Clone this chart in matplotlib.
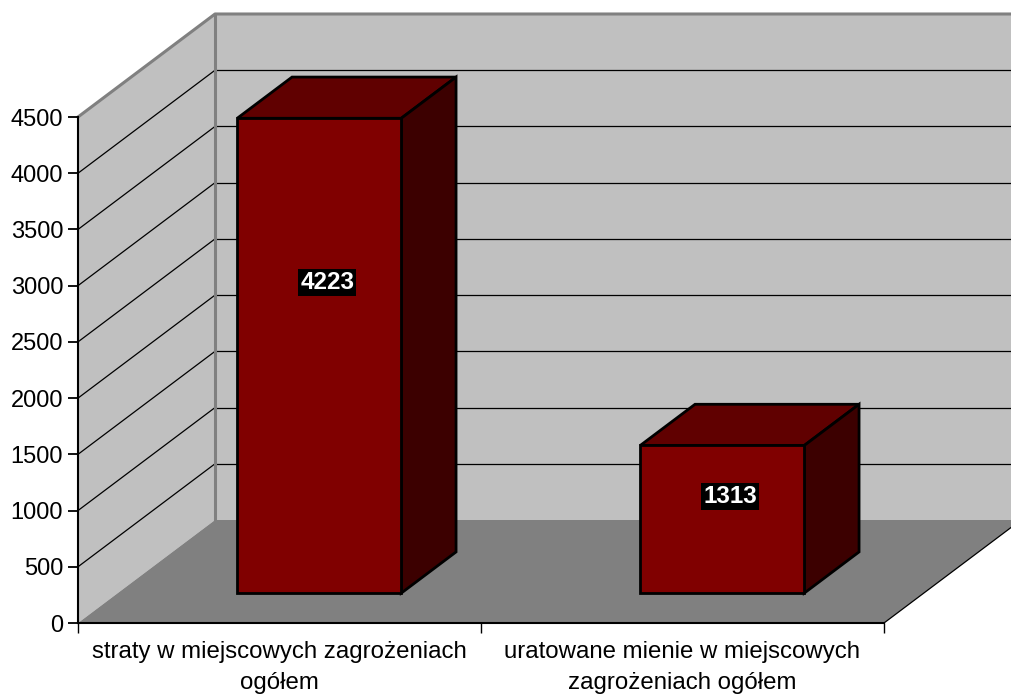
import numpy as np
import matplotlib
matplotlib.use("Agg")
import matplotlib.pyplot as plt
from matplotlib.patches import Polygon

plt.rcParams["font.family"] = ["Liberation Sans", "DejaVu Sans"]

categories = ["straty w miejscowych zagrożeniach\nogółem",
              "uratowane mienie w miejscowych\nzagrożeniach ogółem"]
values = [4223, 1313]
y_ticks = list(range(0, 5000, 500))

WALL = "#c0c0c0"
FLOOR = "#808080"
EDGE_GRAY = "#808080"
FRONT = "#800000"
TOP = "#600000"
SIDE = "#3c0000"

YMAX = 4500
DX, DY = 0.34, 916          # depth offset (category units, value units)
Z0, Z1 = 0.29, 0.69         # bar front/back depth fraction
BAR_W = 0.407


def off(x, y, z):
    return (x + z * DX, y + z * DY)


fig = plt.figure(figsize=(10.11, 6.97), dpi=100)
ax = fig.add_axes([78 / 1011, 74 / 697, 806 / 1011, 506 / 697])
ax.set_xlim(0, len(categories))
ax.set_ylim(0, YMAX)
ax.patch.set_visible(False)

xr = len(categories) + 0.5  # walls run past the right edge

# side wall, back wall, floor
ax.add_patch(Polygon([off(0, 0, 0), off(0, YMAX, 0), off(0, YMAX, 1), off(0, 0, 1)],
                     closed=True, fc=WALL, ec="none", clip_on=False, zorder=0))
ax.add_patch(Polygon([off(0, 0, 1), off(0, YMAX, 1), off(xr, YMAX, 1), off(xr, 0, 1)],
                     closed=True, fc=WALL, ec="none", clip_on=False, zorder=0))
ax.add_patch(Polygon([off(0, 0, 0), off(len(categories), 0, 0), off(len(categories), 0, 1), off(0, 0, 1)],
                     closed=True, fc=FLOOR, ec="none", clip_on=False, zorder=0.5))

# gridlines
for v in y_ticks[1:-1]:
    p0, p1 = off(0, v, 0), off(0, v, 1)
    ax.plot([p0[0], p1[0]], [p0[1], p1[1]], color="black", lw=0.9, clip_on=False, zorder=1)
    q = off(xr, v, 1)
    ax.plot([p1[0], q[0]], [p1[1], q[1]], color="black", lw=0.9, clip_on=False, zorder=1)

# wall edges
pts = [off(0, YMAX, 0), off(0, YMAX, 1), off(xr, YMAX, 1)]
ax.plot([p[0] for p in pts], [p[1] for p in pts], color=EDGE_GRAY, lw=2.2, clip_on=False, zorder=1.2)
a, b = off(0, 0, 1), off(0, YMAX, 1)
ax.plot([a[0], b[0]], [a[1], b[1]], color=EDGE_GRAY, lw=2.2, clip_on=False, zorder=1.2)
a, b = off(len(categories), 0, 0), off(len(categories), 0, 1)
ax.plot([a[0], b[0]], [a[1], b[1]], color="black", lw=0.9, clip_on=False, zorder=1.2)

# bars
for i, v in enumerate(values):
    x0 = i + 0.5 - BAR_W / 2
    x1 = i + 0.5 + BAR_W / 2
    top = [off(x0, v, Z0), off(x1, v, Z0), off(x1, v, Z1), off(x0, v, Z1)]
    side = [off(x1, 0, Z0), off(x1, v, Z0), off(x1, v, Z1), off(x1, 0, Z1)]
    front = [off(x0, 0, Z0), off(x1, 0, Z0), off(x1, v, Z0), off(x0, v, Z0)]
    for poly, col in ((top, TOP), (side, SIDE), (front, FRONT)):
        ax.add_patch(Polygon(poly, closed=True, fc=col, ec="black", lw=2,
                             joinstyle="miter", clip_on=False, zorder=3))
    lx, ly = off(i + 0.5 + 0.02, v * 0.655, Z0)
    ax.text(lx, ly, str(v), color="white", fontsize=17.5, fontweight="bold",
            ha="center", va="center", zorder=4,
            bbox=dict(boxstyle="square,pad=0.08", fc="black", ec="none"))

# axes
for s in ("top", "right"):
    ax.spines[s].set_visible(False)
ax.spines["left"].set_linewidth(1.5)
ax.spines["bottom"].set_linewidth(1.5)
ax.spines["left"].set_zorder(2)
ax.spines["bottom"].set_zorder(2)

ax.set_yticks(y_ticks)
ax.set_yticklabels([str(t) for t in y_ticks])
ax.tick_params(axis="y", length=7.2, width=1.3, pad=3.5, labelsize=17, direction="out")

ax.set_xticks(range(len(categories) + 1))
ax.set_xticklabels([])
ax.tick_params(axis="x", which="major", length=7.2, width=1.0, direction="out")
ax.set_xticks([i + 0.5 for i in range(len(categories))], minor=True)
ax.set_xticklabels(categories, minor=True, linespacing=1.5)
ax.tick_params(axis="x", which="minor", length=0, pad=13, labelsize=17.3)

fig.savefig("out.png", dpi=100)
plt.close(fig)
